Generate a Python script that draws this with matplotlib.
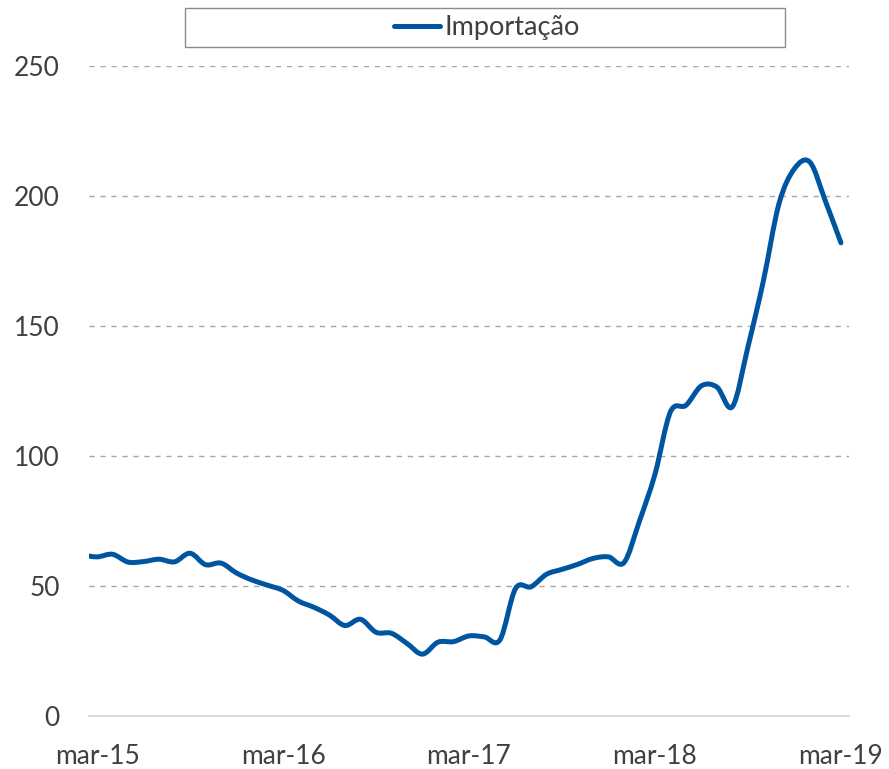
import numpy as np
import matplotlib
matplotlib.use('Agg')
import matplotlib.pyplot as plt
from matplotlib.path import Path
from matplotlib.patches import PathPatch, Rectangle
from matplotlib.lines import Line2D

# Importação mensal, fev-15 a mar-19
importacao = [62.0,
              61.2, 62.2, 59.2, 59.4, 60.3, 59.3, 62.6, 58.2, 58.8, 55.0, 52.3, 50.3,
              48.3, 44.2, 41.8, 38.8, 34.8, 37.2, 32.2, 31.8, 27.9, 23.8, 28.4, 28.6,
              30.8, 30.4, 29.3, 49.0, 49.7, 54.5, 56.4, 58.3, 60.6, 61.2, 59.0, 75.0,
              93.0, 117.0, 119.5, 127.0, 126.5, 119.0, 142.0, 167.5, 197.0, 210.5, 213.0, 198.0,
              182.0]
meses = list(range(-1, len(importacao) - 1))  # 0 = mar-15
rotulos_x = ['mar-15', 'mar-16', 'mar-17', 'mar-18', 'mar-19']
pos_x = [0, 12, 24, 36, 48]
ticks_y = [0, 50, 100, 150, 200, 250]

azul = '#0055a0'
cinza_txt = '#404040'
plt.rcParams['font.family'] = ['Lato', 'DejaVu Sans']

fig = plt.figure(figsize=(8.89, 7.69), dpi=100)
ax = fig.add_axes([89/889, 53/769, 760/889, 650/769])

# linha suavizada (curvas de Bezier pelos pontos, estilo Excel)
pts = np.column_stack([meses, importacao]).astype(float)
n = len(pts)
verts = [pts[0]]
codes = [Path.MOVETO]
for i in range(n - 1):
    p0 = pts[max(i - 1, 0)]
    p1 = pts[i]
    p2 = pts[i + 1]
    p3 = pts[min(i + 2, n - 1)]
    verts += [p1 + (p2 - p0) / 6, p2 - (p3 - p1) / 6, p2]
    codes += [Path.CURVE4] * 3
linha = PathPatch(Path(verts, codes), fill=False, edgecolor=azul, lw=3.6,
                  capstyle='round', joinstyle='round', zorder=3)
ax.add_patch(linha)

ax.set_xlim(-0.52, 48.52)
ax.set_ylim(0, 250)
ax.set_xticks(pos_x)
ax.set_xticklabels(rotulos_x)
ax.set_yticks(ticks_y)

ax.grid(axis='y', color='#a6a6a6', lw=1.0, linestyle=(0, (3.8, 4.1)))
ax.grid(axis='x', visible=False)
ax.set_axisbelow(True)
for s in ['top', 'right', 'left']:
    ax.spines[s].set_visible(False)
ax.spines['bottom'].set_color('#d9d9d9')
ax.spines['bottom'].set_linewidth(1.3)

ax.tick_params(axis='x', length=0, pad=20, labelsize=19, labelcolor=cinza_txt)
ax.tick_params(axis='y', length=0, pad=21, labelsize=19, labelcolor=cinza_txt)

# caixa da legenda
fig.patches.append(Rectangle((185/889, 1 - 47/769), 600/889, 39/769,
                             transform=fig.transFigure, facecolor='white',
                             edgecolor='#8c8c8c', lw=1.0, zorder=0))
fig.legend(handles=[Line2D([], [], color=azul, lw=3.6, solid_capstyle='round')],
           labels=['Importação'], loc='center', bbox_to_anchor=(487/889, 1 - 27.5/769),
           frameon=False, handlelength=1.7, handletextpad=0.15, fontsize=19.5,
           labelcolor=cinza_txt)

fig.savefig('out.png', dpi=100)
